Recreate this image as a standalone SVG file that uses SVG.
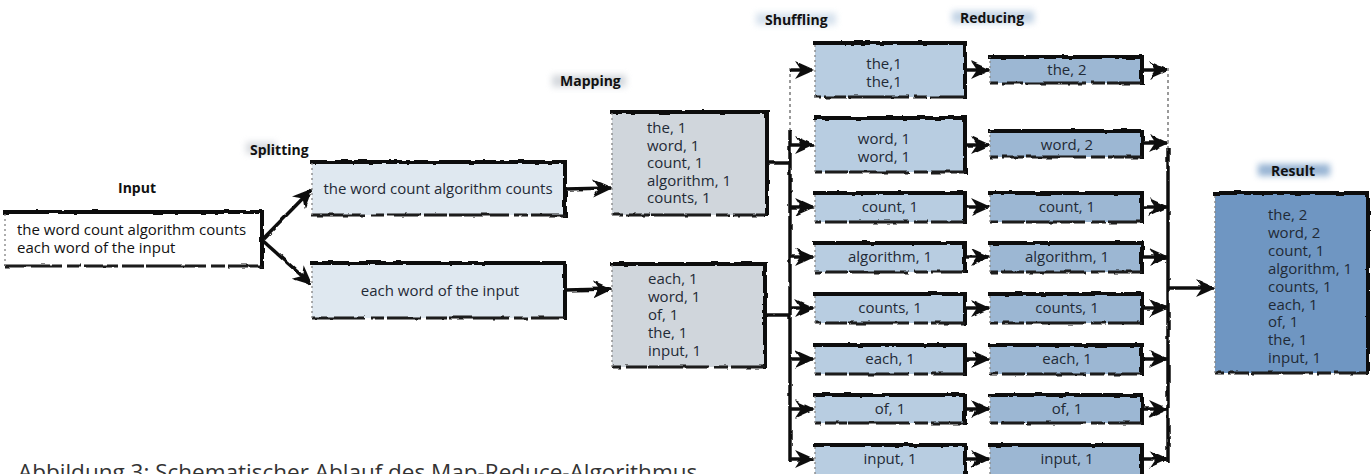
<svg xmlns="http://www.w3.org/2000/svg" width="1371" height="474" viewBox="0 0 1371 474">
  <style>
    text { font-family: "Open Sans", "Noto Sans", "Liberation Sans", sans-serif; }
    .body { font-size: 15px; fill: #1f2a36; }
    .plain { font-size: 15px; fill: #111; }
    .title { font-size: 14px; font-weight: 700; fill: #111; }
    .caption { font-size: 22.5px; fill: #333; }
    .edge { fill: none; stroke: #111; stroke-width: 4; stroke-linecap: square; filter: url(#rough); }
    .edge-b { fill: none; stroke: #1a1a1a; stroke-width: 3; stroke-dasharray: 34 3 14 5 60 2 22 4; filter: url(#rough); }
    .edge-l { fill: none; stroke: #8a8a8a; stroke-width: 1.4; stroke-dasharray: 2 3; }
    .wire { fill: none; stroke: #111; stroke-width: 3.5; filter: url(#rough); }
    .wire-faint { fill: none; stroke: #9a9a9a; stroke-width: 2; stroke-dasharray: 3 3; }
    .arrow { fill: none; stroke: #111; stroke-width: 3.5; marker-end: url(#head); filter: url(#rough); }
    .f-in { fill: #ffffff; }
    .f-split { fill: #dfe8f0; }
    .f-map { fill: #d0d6dc; }
    .f-shuf { fill: #b8cde1; }
    .f-red { fill: #9cb7d3; }
    .f-res { fill: #6f96c2; }
  </style>
  <defs>
    <filter id="rough" filterUnits="userSpaceOnUse" x="0" y="0" width="1371" height="474">
      <feTurbulence type="fractalNoise" baseFrequency="0.09" numOctaves="2" seed="3" result="n"/>
      <feDisplacementMap in="SourceGraphic" in2="n" scale="3" xChannelSelector="R" yChannelSelector="G"/>
    </filter>
    <filter id="smudge" filterUnits="userSpaceOnUse" x="0" y="0" width="1371" height="474">
      <feGaussianBlur stdDeviation="3"/>
    </filter>
    <marker id="head" viewBox="0 0 20 20" refX="18" refY="10" markerWidth="20" markerHeight="20" markerUnits="userSpaceOnUse" orient="auto">
      <path d="M0,1 L20,10 L0,19 L6,10 Z" fill="#111"/>
    </marker>
  </defs>

  <!-- stage labels with brush smudges -->
  <g id="labels">
    <text class="title" x="137" y="193" text-anchor="middle">Input</text>
    <rect x="246" y="142" width="30" height="12" fill="#c9ced4" opacity="0.7" filter="url(#smudge)"/>
    <text class="title" x="250" y="155">Splitting</text>
    <rect x="552" y="75" width="74" height="12" fill="#c2c8cf" opacity="0.7" filter="url(#smudge)"/>
    <text class="title" x="560" y="86">Mapping</text>
    <rect x="756" y="13" width="80" height="12" fill="#c6d6e6" opacity="0.7" filter="url(#smudge)"/>
    <text class="title" x="765" y="25">Shuffling</text>
    <rect x="952" y="11" width="82" height="12" fill="#a9c1da" opacity="0.7" filter="url(#smudge)"/>
    <text class="title" x="960" y="23">Reducing</text>
    <rect x="1258" y="164" width="72" height="12" fill="#7ea2c9" opacity="0.8" filter="url(#smudge)"/>
    <text class="title" x="1293" y="176" text-anchor="middle">Result</text>
  </g>

  <!-- connectors -->
  <g id="connectors">
    <path class="arrow" d="M262,240 L311,190"/>
    <path class="arrow" d="M262,240 L311,284"/>
    <path class="arrow" d="M565,189 L611,188"/>
    <path class="arrow" d="M565,290 L611,289"/>
    <path class="wire" d="M767,163 H790"/>
    <path class="wire" d="M765,315 H790"/>
    <!-- fan-out bus -->
    <path class="wire-faint" d="M790,68 V132"/>
    <path class="wire" d="M790,130 V462"/>
    <path class="arrow" d="M790,70 H813"/>
    <path class="arrow" d="M790,145 H813"/>
    <path class="arrow" d="M790,207 H813"/>
    <path class="arrow" d="M790,257 H813"/>
    <path class="arrow" d="M790,308 H813"/>
    <path class="arrow" d="M790,359 H813"/>
    <path class="arrow" d="M790,409 H813"/>
    <path class="arrow" d="M790,459 H813"/>
    <path class="arrow" d="M965,70 H989"/>
    <path class="arrow" d="M965,145 H989"/>
    <path class="arrow" d="M965,207 H989"/>
    <path class="arrow" d="M965,257 H989"/>
    <path class="arrow" d="M965,308 H989"/>
    <path class="arrow" d="M965,359 H989"/>
    <path class="arrow" d="M965,409 H989"/>
    <path class="arrow" d="M965,459 H989"/>
    <path class="arrow" d="M1142,70 H1167"/>
    <path class="arrow" d="M1142,143 H1167"/>
    <path class="arrow" d="M1142,207 H1167"/>
    <path class="arrow" d="M1142,257 H1167"/>
    <path class="arrow" d="M1142,308 H1167"/>
    <path class="arrow" d="M1142,359 H1167"/>
    <path class="arrow" d="M1142,409 H1167"/>
    <path class="arrow" d="M1142,459 H1167"/>
    <!-- collecting bus -->
    <path class="wire-faint" d="M1168,68 V150"/>
    <path class="wire" d="M1168,148 V462"/>
    <path class="arrow" d="M1168,288 H1214"/>
  </g>

  <!-- input -->
  <g id="input">
    <rect class="f-in" x="5" y="212" width="257" height="54"/>
    <path class="edge" d="M5,212 H262 V266"/>
    <path class="edge-b" d="M262,266 H5"/>
    <path class="edge-l" d="M5,266 V212"/>
    <text class="plain" x="17" y="235">the word count algorithm counts</text>
    <text class="plain" x="17" y="253">each word of the input</text>
  </g>

  <!-- splitting -->
  <g id="split-1">
    <rect class="f-split" x="312" y="162" width="253" height="53"/>
    <path class="edge" d="M312,162 H565 V215"/>
    <path class="edge-b" d="M565,215 H312"/>
    <path class="edge-l" d="M312,215 V162"/>
    <text class="body" x="438" y="194" text-anchor="middle">the word count algorithm counts</text>
  </g>
  <g id="split-2">
    <rect class="f-split" x="312" y="263" width="253" height="55"/>
    <path class="edge" d="M312,263 H565 V318"/>
    <path class="edge-b" d="M565,318 H312"/>
    <path class="edge-l" d="M312,318 V263"/>
    <text class="body" x="440" y="296" text-anchor="middle">each word of the input</text>
  </g>

  <!-- mapping -->
  <g id="map-1">
    <rect class="f-map" x="612" y="112" width="155" height="103"/>
    <path class="edge" d="M612,112 H767 V215"/>
    <path class="edge-b" d="M767,215 H612"/>
    <path class="edge-l" d="M612,215 V112"/>
    <text class="body" x="647" y="133">the, 1<tspan x="647" dy="17.5">word, 1</tspan><tspan x="647" dy="17.5">count, 1</tspan><tspan x="647" dy="17.5">algorithm, 1</tspan><tspan x="647" dy="17.5">counts, 1</tspan></text>
  </g>
  <g id="map-2">
    <rect class="f-map" x="612" y="264" width="153" height="103"/>
    <path class="edge" d="M612,264 H765 V367"/>
    <path class="edge-b" d="M765,367 H612"/>
    <path class="edge-l" d="M612,367 V264"/>
    <text class="body" x="648" y="284">each, 1<tspan x="648" dy="18">word, 1</tspan><tspan x="648" dy="18">of, 1</tspan><tspan x="648" dy="18">the, 1</tspan><tspan x="648" dy="18">input, 1</tspan></text>
  </g>

  <!-- shuffling -->
  <g id="shuf-the">
    <rect class="f-shuf" x="815" y="43" width="150" height="54"/>
    <path class="edge" d="M815,43 H965 V97"/>
    <path class="edge-b" d="M965,97 H815"/>
    <path class="edge-l" d="M815,97 V43"/>
    <text class="body" x="884" y="69" text-anchor="middle">the,1<tspan x="884" dy="18">the,1</tspan></text>
  </g>
  <g id="shuf-word">
    <rect class="f-shuf" x="815" y="118" width="150" height="54"/>
    <path class="edge" d="M815,118 H965 V172"/>
    <path class="edge-b" d="M965,172 H815"/>
    <path class="edge-l" d="M815,172 V118"/>
    <text class="body" x="884" y="144" text-anchor="middle">word, 1<tspan x="884" dy="18">word, 1</tspan></text>
  </g>
  <g id="shuf-count">
    <rect class="f-shuf" x="815" y="193" width="150" height="29"/>
    <path class="edge" d="M815,193 H965 V222"/>
    <path class="edge-b" d="M965,222 H815"/>
    <path class="edge-l" d="M815,222 V193"/>
    <text class="body" x="890" y="212" text-anchor="middle">count, 1</text>
  </g>
  <g id="shuf-algorithm">
    <rect class="f-shuf" x="815" y="243" width="150" height="29"/>
    <path class="edge" d="M815,243 H965 V272"/>
    <path class="edge-b" d="M965,272 H815"/>
    <path class="edge-l" d="M815,272 V243"/>
    <text class="body" x="890" y="262" text-anchor="middle">algorithm, 1</text>
  </g>
  <g id="shuf-counts">
    <rect class="f-shuf" x="815" y="294" width="150" height="29"/>
    <path class="edge" d="M815,294 H965 V323"/>
    <path class="edge-b" d="M965,323 H815"/>
    <path class="edge-l" d="M815,323 V294"/>
    <text class="body" x="890" y="313" text-anchor="middle">counts, 1</text>
  </g>
  <g id="shuf-each">
    <rect class="f-shuf" x="815" y="345" width="150" height="29"/>
    <path class="edge" d="M815,345 H965 V374"/>
    <path class="edge-b" d="M965,374 H815"/>
    <path class="edge-l" d="M815,374 V345"/>
    <text class="body" x="890" y="364" text-anchor="middle">each, 1</text>
  </g>
  <g id="shuf-of">
    <rect class="f-shuf" x="815" y="395" width="150" height="28"/>
    <path class="edge" d="M815,395 H965 V423"/>
    <path class="edge-b" d="M965,423 H815"/>
    <path class="edge-l" d="M815,423 V395"/>
    <text class="body" x="890" y="414" text-anchor="middle">of, 1</text>
  </g>
  <g id="shuf-input">
    <rect class="f-shuf" x="815" y="445" width="150" height="29"/>
    <path class="edge" d="M815,445 H965 V474"/>
    <path class="edge-l" d="M815,474 V445"/>
    <text class="body" x="890" y="464" text-anchor="middle">input, 1</text>
  </g>

  <!-- reducing -->
  <g id="red-the">
    <rect class="f-red" x="990" y="57" width="152" height="26"/>
    <path class="edge" d="M990,57 H1142 V83"/>
    <path class="edge-b" d="M1142,83 H990"/>
    <path class="edge-l" d="M990,83 V57"/>
    <text class="body" x="1067" y="75" text-anchor="middle">the, 2</text>
  </g>
  <g id="red-word">
    <rect class="f-red" x="990" y="131" width="152" height="26"/>
    <path class="edge" d="M990,131 H1142 V157"/>
    <path class="edge-b" d="M1142,157 H990"/>
    <path class="edge-l" d="M990,157 V131"/>
    <text class="body" x="1067" y="150" text-anchor="middle">word, 2</text>
  </g>
  <g id="red-count">
    <rect class="f-red" x="990" y="193" width="152" height="29"/>
    <path class="edge" d="M990,193 H1142 V222"/>
    <path class="edge-b" d="M1142,222 H990"/>
    <path class="edge-l" d="M990,222 V193"/>
    <text class="body" x="1067" y="212" text-anchor="middle">count, 1</text>
  </g>
  <g id="red-algorithm">
    <rect class="f-red" x="990" y="243" width="152" height="29"/>
    <path class="edge" d="M990,243 H1142 V272"/>
    <path class="edge-b" d="M1142,272 H990"/>
    <path class="edge-l" d="M990,272 V243"/>
    <text class="body" x="1067" y="262" text-anchor="middle">algorithm, 1</text>
  </g>
  <g id="red-counts">
    <rect class="f-red" x="990" y="294" width="152" height="29"/>
    <path class="edge" d="M990,294 H1142 V323"/>
    <path class="edge-b" d="M1142,323 H990"/>
    <path class="edge-l" d="M990,323 V294"/>
    <text class="body" x="1067" y="313" text-anchor="middle">counts, 1</text>
  </g>
  <g id="red-each">
    <rect class="f-red" x="990" y="345" width="152" height="29"/>
    <path class="edge" d="M990,345 H1142 V374"/>
    <path class="edge-b" d="M1142,374 H990"/>
    <path class="edge-l" d="M990,374 V345"/>
    <text class="body" x="1067" y="364" text-anchor="middle">each, 1</text>
  </g>
  <g id="red-of">
    <rect class="f-red" x="990" y="395" width="152" height="28"/>
    <path class="edge" d="M990,395 H1142 V423"/>
    <path class="edge-b" d="M1142,423 H990"/>
    <path class="edge-l" d="M990,423 V395"/>
    <text class="body" x="1067" y="414" text-anchor="middle">of, 1</text>
  </g>
  <g id="red-input">
    <rect class="f-red" x="990" y="445" width="152" height="29"/>
    <path class="edge" d="M990,445 H1142 V474"/>
    <path class="edge-l" d="M990,474 V445"/>
    <text class="body" x="1067" y="464" text-anchor="middle">input, 1</text>
  </g>

  <!-- result -->
  <g id="result">
    <rect class="f-res" x="1215" y="193" width="154" height="180"/>
    <path class="edge" d="M1215,193 H1368 V373"/>
    <path class="edge-b" d="M1368,373 H1215"/>
    <path class="edge-l" d="M1215,373 V193"/>
    <text class="body" x="1268" y="220">the, 2<tspan x="1268" dy="17.9">word, 2</tspan><tspan x="1268" dy="17.9">count, 1</tspan><tspan x="1268" dy="17.9">algorithm, 1</tspan><tspan x="1268" dy="17.9">counts, 1</tspan><tspan x="1268" dy="17.9">each, 1</tspan><tspan x="1268" dy="17.9">of, 1</tspan><tspan x="1268" dy="17.9">the, 1</tspan><tspan x="1268" dy="17.9">input, 1</tspan></text>
  </g>

  <text class="caption" x="18" y="480">Abbildung 3: Schematischer Ablauf des Map-Reduce-Algorithmus</text>
</svg>
